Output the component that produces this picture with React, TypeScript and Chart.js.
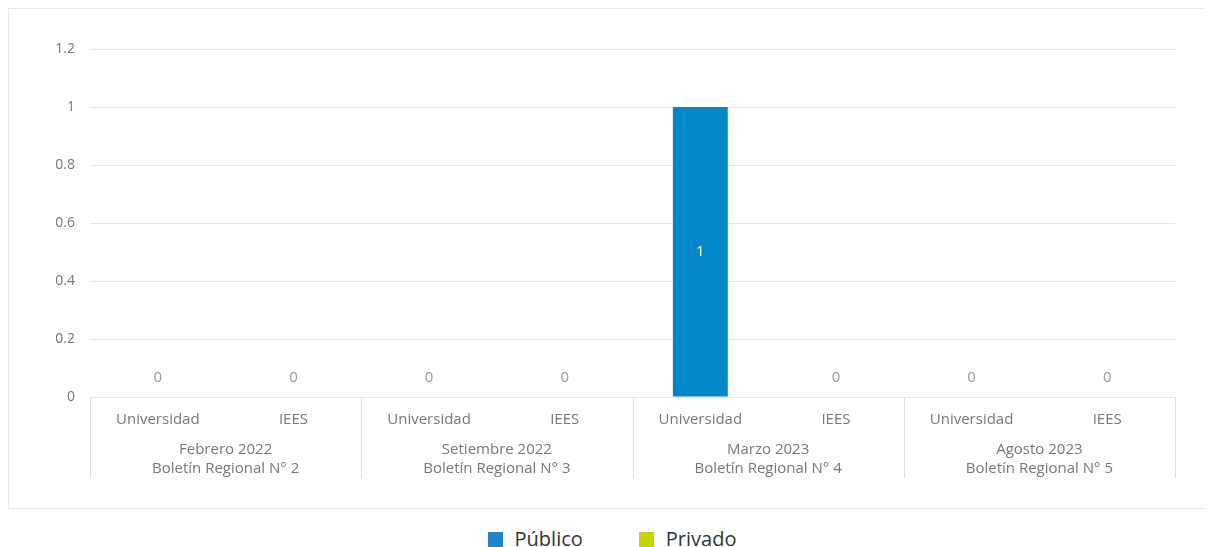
import React, { useEffect, useRef } from "react";
import { Chart, registerables } from "chart.js";

Chart.register(...registerables);

const categories = [
  "Universidad", "IEES",
  "Universidad", "IEES",
  "Universidad", "IEES",
  "Universidad", "IEES",
];
const groupLine1 = ["Febrero 2022", "Setiembre 2022", "Marzo 2023", "Agosto 2023"];
const groupLine2 = [
  "Boletín Regional N° 2",
  "Boletín Regional N° 3",
  "Boletín Regional N° 4",
  "Boletín Regional N° 5",
];
const publico = [0, 0, 0, 0, 1, 0, 0, 0];
const privado = [0, 0, 0, 0, 0, 0, 0, 0];
const seriesNames = ["Público", "Privado"];
const seriesColors = ["#0086c9", "#c8d400"];
const legendColors = ["#1b87c9", "#c8d400"];

const FONT = "'Open Sans', sans-serif";
const TEXT = "#777777";

const framePlugin = {
  id: "frame",
  beforeDraw(chart: any) {
    const ctx = chart.ctx;
    const w = chart.width;
    const h = chart.height;
    ctx.save();
    ctx.strokeStyle = "#e8e8e8";
    ctx.lineWidth = 1;
    ctx.beginPath();
    ctx.moveTo(w, 0.5);
    ctx.lineTo(0.5, 0.5);
    ctx.lineTo(0.5, h - 0.5);
    ctx.lineTo(w, h - 0.5);
    ctx.stroke();
    ctx.restore();
  },
};

const groupPlugin = {
  id: "groupLabels",
  afterDraw(chart: any) {
    const ctx = chart.ctx;
    const xs = chart.scales.x;
    const area = chart.chartArea;
    const half = (xs.getPixelForValue(1) - xs.getPixelForValue(0)) / 2;
    ctx.save();
    ctx.strokeStyle = "#dedede";
    ctx.lineWidth = 1;
    for (let g = 0; g <= groupLine1.length; g++) {
      const x = Math.round(xs.getPixelForValue(g * 2) - half) + 0.5;
      ctx.beginPath();
      ctx.moveTo(x, area.bottom);
      ctx.lineTo(x, area.bottom + 81);
      ctx.stroke();
    }
    ctx.fillStyle = TEXT;
    ctx.font = `15px ${FONT}`;
    ctx.textAlign = "center";
    ctx.textBaseline = "middle";
    for (let g = 0; g < groupLine1.length; g++) {
      const cx = (xs.getPixelForValue(g * 2) + xs.getPixelForValue(g * 2 + 1)) / 2;
      ctx.fillText(groupLine1[g], cx, area.bottom + 53);
      ctx.fillText(groupLine2[g], cx, area.bottom + 72);
    }
    ctx.restore();
  },
};

const labelPlugin = {
  id: "valueLabels",
  afterDatasetsDraw(chart: any) {
    const ctx = chart.ctx;
    ctx.save();
    ctx.font = `15px ${FONT}`;
    ctx.textAlign = "center";
    ctx.textBaseline = "middle";
    const n = categories.length;
    for (let i = 0; i < n; i++) {
      let total = 0;
      chart.data.datasets.forEach((ds: any) => (total += ds.data[i]));
      chart.data.datasets.forEach((ds: any, di: number) => {
        const el = chart.getDatasetMeta(di).data[i];
        if (!el) return;
        const v = ds.data[i];
        if (v > 0) {
          ctx.fillStyle = "#ffffff";
          ctx.fillText(String(v), el.x, (el.y + el.base) / 2);
        } else if (total === 0 && di === 0) {
          ctx.fillStyle = "#999999";
          ctx.fillText("0", el.x, el.base - 19);
        }
      });
    }
    ctx.restore();
  },
};

export default function App() {
  const ref = useRef<HTMLCanvasElement>(null);

  useEffect(() => {
    if (!ref.current) return;
    const chart = new Chart(ref.current, {
      type: "bar",
      data: {
        labels: categories,
        datasets: [
          {
            label: seriesNames[0],
            data: publico,
            backgroundColor: seriesColors[0],
            barPercentage: 0.506,
            categoryPercentage: 0.8,
          },
          {
            label: seriesNames[1],
            data: privado,
            backgroundColor: seriesColors[1],
            barPercentage: 0.506,
            categoryPercentage: 0.8,
          },
        ],
      },
      options: {
        responsive: false,
        animation: false,
        layout: { padding: { top: 41, right: 37, left: 0, bottom: 0 } },
        plugins: {
          legend: { display: false },
          tooltip: { enabled: false },
        },
        scales: {
          x: {
            stacked: true,
            grid: { display: false },
            border: { display: false },
            ticks: {
              color: TEXT,
              font: { family: FONT, size: 15 },
              padding: 6,
              maxRotation: 0,
              autoSkip: false,
            },
            afterFit: (s: any) => {
              s.height = 112;
            },
          },
          y: {
            stacked: true,
            min: 0,
            max: 1.2,
            grid: { color: "#e6e6e6", drawTicks: false },
            border: { display: false },
            ticks: {
              stepSize: 0.2,
              color: TEXT,
              font: { family: FONT, size: 14 },
              padding: 15,
              callback: (v: any) => String(Number(Number(v).toFixed(1))),
            },
            afterFit: (s: any) => {
              s.width = 82;
            },
          },
        },
      },
      plugins: [framePlugin, groupPlugin, labelPlugin],
    });
    return () => chart.destroy();
  }, []);

  return (
    <div style={{ position: "relative", width: 1204, height: 539, overflow: "hidden" }}>
      <style>{"html,body{overflow:hidden;}"}</style>
      <canvas
        ref={ref}
        width={1204}
        height={501}
        style={{ display: "block", position: "absolute", left: 0, top: 0 }}
      />
      <div
        style={{
          position: "absolute",
          left: 0,
          top: 523,
          height: 16,
          width: 1204,
          paddingLeft: 4,
          boxSizing: "border-box",
          display: "flex",
          justifyContent: "center",
          alignItems: "center",
          fontFamily: FONT,
          fontSize: 20,
          color: "#333333",
          whiteSpace: "nowrap",
        }}
      >
        {seriesNames.map((name, i) => (
          <div
            key={name}
            style={{ display: "flex", alignItems: "center", marginLeft: i === 0 ? 0 : 56 }}
          >
            <span
              style={{
                display: "inline-block",
                width: 15,
                height: 15,
                background: legendColors[i],
                marginRight: 12,
              }}
            />
            <span style={{ lineHeight: "16px" }}>{name}</span>
          </div>
        ))}
      </div>
    </div>
  );
}
